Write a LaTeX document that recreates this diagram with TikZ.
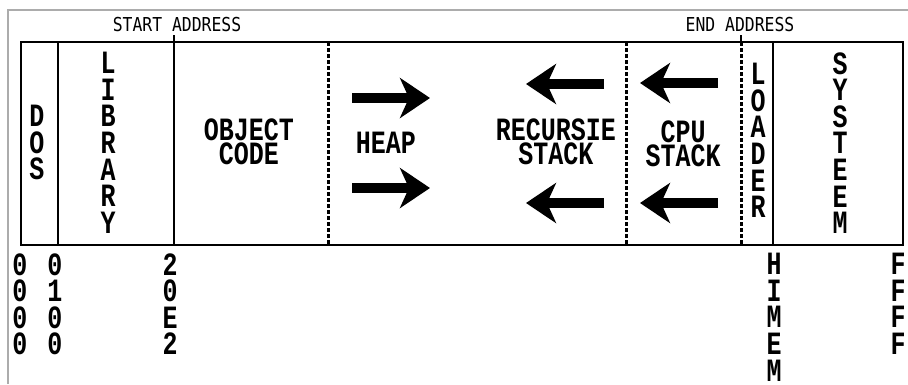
\documentclass[tikz,border=0pt]{standalone}
\usepackage{fontspec}
\usetikzlibrary{arrows.meta}
\newfontfamily\labfont{Liberation Mono}
\newfontfamily\smallfont{DejaVu Sans Mono}
\newcommand\tightlines{\lineskiplimit -100pt\relax\lineskip 0pt\relax}
\newcommand\labA{\labfont\bfseries\fontsize{25}{19.2}\selectfont\tightlines}
\newcommand\labB{\labfont\bfseries\fontsize{25}{20.5}\selectfont\tightlines}
\begin{document}
\begin{tikzpicture}[x=1pt,y=-1pt,
  frame/.style={draw=gray!65, line width=1.3pt},
  wall/.style={draw=black, line width=2.5pt},
  dotwall/.style={draw=black, line width=3pt, dash pattern=on 4pt off 2pt},
  lab/.style={font=\labA, inner sep=0pt, yscale=1.3, align=center, anchor=north},
  vlab/.style={lab, font=\labB},
  small/.style={font=\smallfont\fontsize{16.4}{16.4}\selectfont, inner sep=0pt, yscale=1.17},
  growarrow/.style={line width=10pt, -{Stealth[length=30pt,width=40pt,inset=9pt]}}
]
\useasboundingbox (0,0) rectangle (908,384);
% outer frame
\draw[frame] (8,384) -- (8,10) -- (908,10);
% memory box
\draw[wall] (21,42) rectangle (903,245);
\draw[wall] (58,42) -- (58,245);
\draw[wall] (174,35) -- (174,245);
\draw[wall] (773,42) -- (773,245);
\draw[wall] (741,35) -- (741,42);
\draw[dotwall] (328,42) -- (328,245);
\draw[dotwall] (626,42) -- (626,245);
\draw[dotwall] (741,42) -- (741,245);
% top labels
\node[small] (start) at (177,25) {START ADDRESS};
\node[small] (end) at (740,25) {END ADDRESS};
% region labels
\node[vlab] (dos) at (37,105) {D\\O\\S};
\node[vlab] (lib) at (108,52) {L\\I\\B\\R\\A\\R\\Y};
\node[lab] (obj) at (249,118) {OBJECT\\CODE};
\node[lab] (heap) at (386,132) {HEAP};
\node[lab] (rec) at (556,118) {RECURSIE\\STACK};
\node[lab] (cpu) at (683,120) {CPU\\STACK};
\node[vlab] (load) at (758,63) {L\\O\\A\\D\\E\\R};
\node[vlab] (sys) at (840,52) {S\\Y\\S\\T\\E\\E\\M};
% addresses
\node[vlab] (a1) at (20,253) {0\\0\\0\\0};
\node[vlab] (a2) at (55,253) {0\\1\\0\\0};
\node[vlab] (a3) at (170,253) {2\\0\\E\\2};
\node[vlab] (a4) at (774,253) {H\\I\\M\\E\\M};
\node[vlab] (a5) at (898,253) {F\\F\\F\\F};
% growth arrows
\coordinate (h1s) at (352,98);  \coordinate (h1e) at (430,98);
\coordinate (h2s) at (352,188); \coordinate (h2e) at (430,188);
\coordinate (r1s) at (604,84);  \coordinate (r1e) at (526,84);
\coordinate (r2s) at (604,203); \coordinate (r2e) at (526,203);
\coordinate (c1s) at (718,83);  \coordinate (c1e) at (640,83);
\coordinate (c2s) at (718,203); \coordinate (c2e) at (640,203);
\draw[growarrow] (h1s) -- (h1e);
\draw[growarrow] (h2s) -- (h2e);
\draw[growarrow] (r1s) -- (r1e);
\draw[growarrow] (r2s) -- (r2e);
\draw[growarrow] (c1s) -- (c1e);
\draw[growarrow] (c2s) -- (c2e);
\end{tikzpicture}
\end{document}
